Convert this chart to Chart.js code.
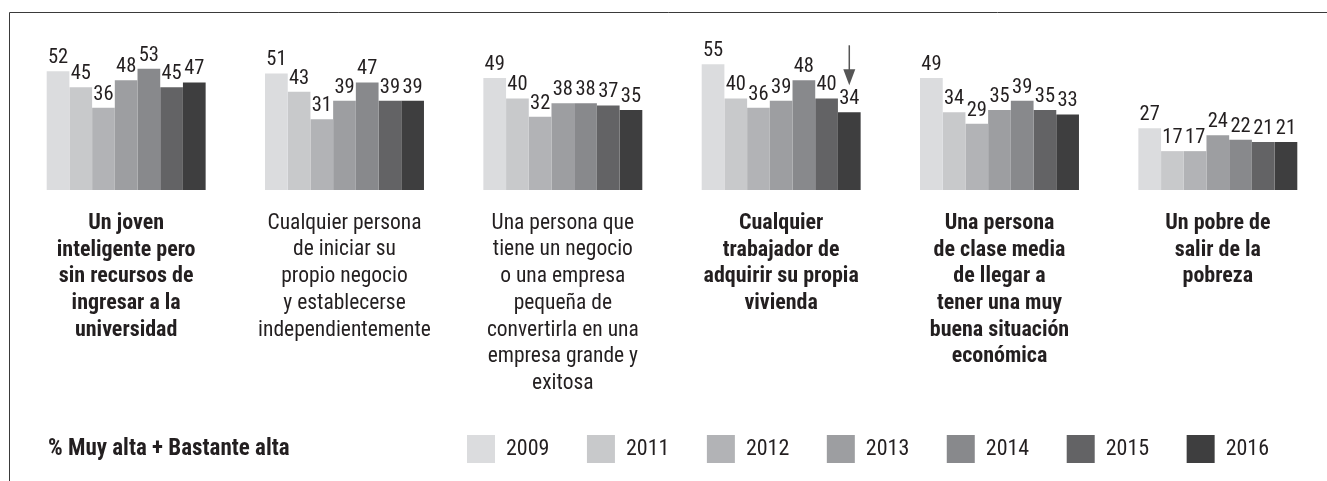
<!DOCTYPE html>
<html>
<head>
<meta charset="utf-8">
<script src="https://cdn.jsdelivr.net/npm/chart.js"></script>
<style>
  body { margin: 0; background: #fff; }
  canvas { display: block; }
</style>
</head>
<body>
<canvas id="chart" width="1327" height="481"></canvas>
<script>
  const categorias = [
    ['Un joven', 'inteligente pero', 'sin recursos de', 'ingresar a la', 'universidad'],
    ['Cualquier persona', 'de iniciar su', 'propio negocio', 'y establecerse', 'independientemente'],
    ['Una persona que', 'tiene un negocio', 'o una empresa', 'pequeña de', 'convertirla en una', 'empresa grande y', 'exitosa'],
    ['Cualquier', 'trabajador de', 'adquirir su propia', 'vivienda'],
    ['Una persona', 'de clase media', 'de llegar a', 'tener una muy', 'buena situación', 'económica'],
    ['Un pobre de', 'salir de la', 'pobreza']
  ];
  const categoriasNegrita = [0, 3, 4, 5];

  const anos = ['2009', '2011', '2012', '2013', '2014', '2015', '2016'];
  const v2009 = [52, 51, 49, 55, 49, 27];
  const v2011 = [45, 43, 40, 40, 34, 17];
  const v2012 = [36, 31, 32, 36, 29, 17];
  const v2013 = [48, 39, 38, 39, 35, 24];
  const v2014 = [53, 47, 38, 48, 39, 22];
  const v2015 = [45, 39, 37, 40, 35, 21];
  const v2016 = [47, 39, 35, 34, 33, 21];
  const series = [v2009, v2011, v2012, v2013, v2014, v2015, v2016];
  const cores = ['#dbdcde', '#c8c9cb', '#b2b3b6', '#9d9ea1', '#88898c', '#636365', '#3e3e3f'];

  const tituloLegenda = '% Muy alta + Bastante alta';

  // fonte estreita: Roboto Condensed se existir
  const FONTE = "'Roboto Condensed', 'Liberation Sans Narrow', 'Open Sans', 'DejaVu Sans Condensed', sans-serif";
  const NORMAL = 'condensed';
  const NEGRITO = 'bold condensed';
  const TEXTO = '#231f20';
  const PAD_LEGENDA = 37.5;

  // moldura (linha superior e esquerda)
  const moldura = {
    id: 'moldura',
    beforeDraw(chart) {
      const ctx = chart.ctx;
      ctx.save();
      ctx.strokeStyle = '#3a3a3a';
      ctx.lineWidth = 1;
      ctx.beginPath();
      ctx.moveTo(9.5, chart.height);
      ctx.lineTo(9.5, 12.5);
      ctx.lineTo(chart.width, 12.5);
      ctx.stroke();
      ctx.restore();
    }
  };

  // valores em cima das barras
  const rotulos = {
    id: 'rotulos',
    afterDatasetsDraw(chart) {
      const ctx = chart.ctx;
      ctx.save();
      ctx.font = NORMAL + ' 20.5px ' + FONTE;
      ctx.fillStyle = TEXTO;
      ctx.textAlign = 'center';
      ctx.textBaseline = 'bottom';
      chart.data.datasets.forEach((ds, i) => {
        chart.getDatasetMeta(i).data.forEach((bar, j) => {
          ctx.fillText(ds.data[j], bar.x, bar.y - 3);
        });
      });
      ctx.restore();
    }
  };

  // seta sobre 2016 em "Cualquier trabajador..."
  const seta = {
    id: 'seta',
    afterDatasetsDraw(chart) {
      const bar = chart.getDatasetMeta(6).data[3];
      if (!bar) return;
      const ctx = chart.ctx;
      const x = bar.x, ponta = bar.y - 27;
      ctx.save();
      ctx.strokeStyle = '#555';
      ctx.fillStyle = '#555';
      ctx.lineWidth = 1.5;
      ctx.beginPath();
      ctx.moveTo(x, ponta - 40);
      ctx.lineTo(x, ponta - 14);
      ctx.stroke();
      ctx.beginPath();
      ctx.moveTo(x - 6, ponta - 16);
      ctx.lineTo(x + 6, ponta - 16);
      ctx.lineTo(x, ponta);
      ctx.closePath();
      ctx.fill();
      ctx.restore();
    }
  };

  // titulo a esquerda da legenda + posicao da legenda
  const tituloEsq = {
    id: 'tituloEsq',
    afterLayout(chart) {
      chart.legend.left = 467 - PAD_LEGENDA;
      chart.legend.right = chart.legend.left + 3000;
    },
    afterDraw(chart) {
      const ctx = chart.ctx;
      const h = chart.legend.legendHitBoxes[0];
      ctx.save();
      ctx.font = NEGRITO + ' 23px ' + FONTE;
      ctx.fillStyle = TEXTO;
      ctx.textAlign = 'left';
      ctx.textBaseline = 'middle';
      ctx.fillText(tituloLegenda, 48, h.top + h.height / 2);
      ctx.restore();
    }
  };

  new Chart(document.getElementById('chart'), {
    type: 'bar',
    data: {
      labels: categorias,
      datasets: anos.map((a, i) => ({
        label: a,
        data: series[i],
        backgroundColor: cores[i],
        borderWidth: 0,
        categoryPercentage: 0.728,
        barPercentage: 1
      }))
    },
    options: {
      responsive: false,
      animation: false,
      layout: { padding: { left: 17, top: 30, right: 0, bottom: 8 } },
      scales: {
        x: {
          grid: { display: false, drawTicks: false },
          border: { display: false },
          ticks: {
            padding: 20,
            color: TEXTO,
            maxRotation: 0,
            autoSkip: false,
            font: (c) => ({
              family: FONTE,
              size: categoriasNegrita.includes(c.index) ? 22 : 21.5,
              weight: categoriasNegrita.includes(c.index) ? NEGRITO : NORMAL,
              lineHeight: '26.7px'
            })
          },
          afterFit(scale) { scale.height = 245 - PAD_LEGENDA; }
        },
        y: {
          display: false,
          min: 0,
          max: 70
        }
      },
      plugins: {
        legend: {
          position: 'bottom',
          align: 'start',
          labels: {
            boxWidth: 28,
            boxHeight: 28,
            padding: PAD_LEGENDA,
            color: TEXTO,
            font: { family: FONTE, size: 22, weight: NORMAL }
          }
        },
        tooltip: { enabled: false }
      }
    },
    plugins: [moldura, rotulos, seta, tituloEsq]
  });
</script>
</body>
</html>
